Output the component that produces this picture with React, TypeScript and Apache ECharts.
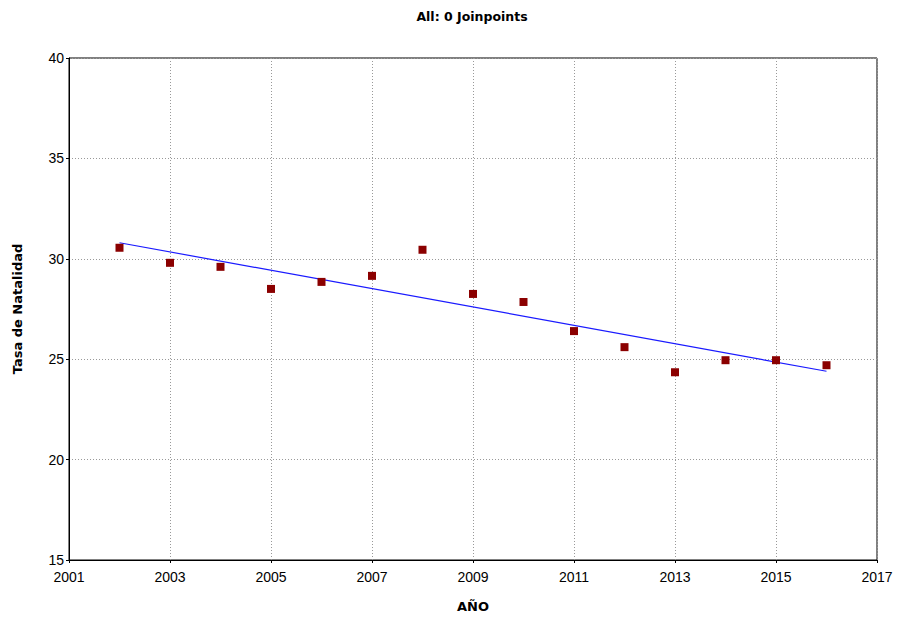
import React, { useEffect, useRef } from "react";
import * as echarts from "echarts";

const years = [2002, 2003, 2004, 2005, 2006, 2007, 2008, 2009, 2010, 2011, 2012, 2013, 2014, 2015, 2016];
const rates = [30.55, 29.8, 29.6, 28.5, 28.85, 29.15, 30.45, 28.25, 27.85, 26.4, 25.6, 24.35, 24.95, 24.95, 24.7];
const fitYears = [2002, 2016];
const fitValues = [30.8, 24.4];

const narrow = "'Liberation Sans Narrow', 'Arial Narrow', 'Liberation Sans', Arial, sans-serif";
const bold = "Tahoma, 'DejaVu Sans', Verdana, sans-serif";

export default function App() {
  const ref = useRef<HTMLDivElement>(null);
  useEffect(() => {
    const chart = echarts.init(ref.current!, null, { renderer: "svg" });
    chart.setOption({
      animation: false,
      backgroundColor: "#ffffff",
      title: {
        text: "All: 0 Joinpoints",
        left: 467,
        textAlign: "center",
        top: 5,
        textStyle: { fontFamily: bold, fontSize: 12.5, fontWeight: "bold", color: "#000" },
      },
      grid: { left: 69, right: 22, top: 58, bottom: 61, show: true, borderColor: "#000", borderWidth: 1 },
      xAxis: {
        type: "value",
        min: 2001,
        max: 2017,
        interval: 2,
        name: "AÑO",
        nameLocation: "middle",
        nameGap: 40,
        nameTextStyle: { fontFamily: bold, fontSize: 13, fontWeight: "bold", color: "#000" },
        axisLine: { show: true, lineStyle: { color: "#000" } },
        axisTick: { show: true, length: 3, lineStyle: { color: "#000" } },
        axisLabel: { fontFamily: narrow, fontSize: 14, color: "#000", margin: 10, formatter: (v: number) => String(v) },
        splitLine: { show: true, lineStyle: { color: "#999", type: [1, 2], width: 1 } },
      },
      yAxis: {
        type: "value",
        min: 15,
        max: 40,
        interval: 5,
        name: "Tasa de Natalidad",
        nameLocation: "middle",
        nameGap: 45,
        nameTextStyle: { fontFamily: bold, fontSize: 13, fontWeight: "bold", color: "#000" },
        axisLine: { show: true, lineStyle: { color: "#000" } },
        axisTick: { show: true, length: 3, lineStyle: { color: "#000" } },
        axisLabel: { fontFamily: narrow, fontSize: 14, color: "#000", margin: 5 },
        splitLine: { show: true, lineStyle: { color: "#999", type: [1, 2], width: 1 } },
      },
      series: [
        {
          type: "line",
          data: fitYears.map((y, i) => [y, fitValues[i]]),
          showSymbol: false,
          symbol: "none",
          lineStyle: { color: "#1a1aff", width: 1.2 },
          z: 2,
        },
        {
          type: "scatter",
          data: years.map((y, i) => [y, rates[i]]),
          symbol: "rect",
          symbolSize: 8,
          itemStyle: { color: "#8b0000", opacity: 1 },
          z: 3,
        },
      ],
    });
    return () => chart.dispose();
  }, []);
  return <div ref={ref} style={{ width: 899, height: 621, position: "absolute", left: 0, top: 0 }} />;
}
